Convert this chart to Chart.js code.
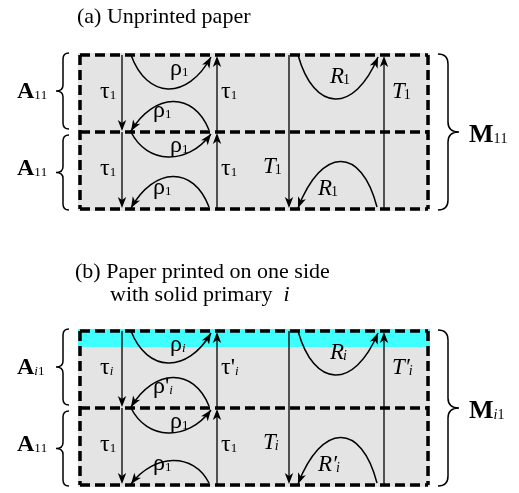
<!DOCTYPE html>
<html>
<head>
<meta charset="utf-8">
<script src="https://cdn.jsdelivr.net/npm/chart.js@4.4.1/dist/chart.umd.min.js"></script>
<style>
  html, body { margin: 0; padding: 0; background: #fff; }
</style>
</head>
<body>
<canvas id="diagram" width="519" height="493"></canvas>
<script>
// ---- content (text of the two panels) ----
const panelTitles = ['(a) Unprinted paper', '(b) Paper printed on one side'];
const panelNotes = ['', 'with solid primary'];
const panelNoteVar = ['', 'i'];
const inkOnTop = [false, true];

// one entry per layer: panel (a) upper, lower, panel (b) upper, lower
const layerTag = ['11', '11', 'i1', '11'];
const rhoIn = [['ρ', '1'], ['ρ', '1'], ['ρ', 'i'], ['ρ', '1']];
const rhoOut = [['ρ', '1'], ['ρ', '1'], ["ρ'", 'i'], ['ρ', '1']];
const tauDown = [['τ', '1'], ['τ', '1'], ['τ', 'i'], ['τ', '1']];
const tauUp = [['τ', '1'], ['τ', '1'], ["τ'", 'i'], ['τ', '1']];

// one entry per panel (whole stack of two layers)
const stackTag = ['11', 'i1'];
const reflTop = [['R', '1'], ['R', 'i']];
const transUp = [['T', '1'], ['T\u2032', 'i']];
const transDown = [['T', '1'], ['T', 'i']];
const reflBottom = [['R', '1'], ['R\u2032', 'i']];

// ---- layout (diagram units = reference pixels) ----
const panelTop = [55, 331];
const LAYER = 77;
const BOX = { x0: 80, x1: 428 };
const SHAFT = { tauDown: 122, tauUp: 217, tDown: 289, tUp: 384 };
const inDepth = [33, 24, 31, 24];
const outDepth = [29, 31, 29, 23];
const FONT = '"Liberation Serif", "Times New Roman", serif';

const lineSets = [];
function seg(x0, y0, x1, y1, dashed) {
  lineSets.push({
    data: [{ x: x0, y: y0 }, { x: x1, y: y1 }],
    showLine: true,
    borderColor: '#000',
    borderWidth: dashed ? 3.5 : 1.3,
    borderDash: dashed ? [10, 5] : [],
    pointRadius: 0,
    clip: false
  });
}
panelTop.forEach((t) => {
  const m = t + LAYER, b = t + 2 * LAYER;
  seg(BOX.x0, t, BOX.x1, t, true);
  seg(BOX.x0, m, BOX.x1, m, true);
  seg(BOX.x0, b, BOX.x1, b, true);
  seg(BOX.x0, t, BOX.x0, b, true);
  seg(BOX.x1, t, BOX.x1, b, true);
  for (let k = 0; k < 2; k++) {
    const lt = t + k * LAYER, lb = lt + LAYER;
    seg(SHAFT.tauDown, lt, SHAFT.tauDown, lb - 4);
    seg(SHAFT.tauUp, lb, SHAFT.tauUp, lt + 4);
  }
  seg(SHAFT.tDown, t, SHAFT.tDown, b - 4);
  seg(SHAFT.tUp, b, SHAFT.tUp, t + 4);
});

function arrowHead(ctx, x, y, ang) {
  ctx.save();
  ctx.translate(x, y);
  ctx.rotate(ang);
  ctx.beginPath();
  ctx.moveTo(0, 0);
  ctx.lineTo(-11, -4.2);
  ctx.lineTo(-8, 0);
  ctx.lineTo(-11, 4.2);
  ctx.closePath();
  ctx.fill();
  ctx.restore();
}

// curved flux: from s to e, bulging by depth (positive = downwards)
function arc(ctx, X, Y, sx, sy, ex, ey, depth) {
  const k = depth / 0.75;
  const dx = ex - sx;
  const c1x = sx + dx * 0.2, c1y = sy + k;
  const c2x = ex - dx * 0.3, c2y = ey + k;
  ctx.beginPath();
  ctx.moveTo(X(sx), Y(sy));
  ctx.bezierCurveTo(X(c1x), Y(c1y), X(c2x), Y(c2y), X(ex), Y(ey));
  ctx.stroke();
  const ang = Math.atan2(Y(ey) - Y(c2y), X(ex) - X(c2x));
  arrowHead(ctx, X(ex), Y(ey), ang);
}

function brace(ctx, X, Y, xs, xt, y0, y1, r) {
  const d = Math.sign(xs - xt);
  const ym = (y0 + y1) / 2;
  ctx.beginPath();
  ctx.moveTo(X(xs + d * r), Y(y0));
  ctx.quadraticCurveTo(X(xs), Y(y0), X(xs), Y(y0 + r));
  ctx.lineTo(X(xs), Y(ym - r));
  ctx.quadraticCurveTo(X(xs), Y(ym), X(xt), Y(ym));
  ctx.quadraticCurveTo(X(xs), Y(ym), X(xs), Y(ym + r));
  ctx.lineTo(X(xs), Y(y1 - r));
  ctx.quadraticCurveTo(X(xs), Y(y1), X(xs + d * r), Y(y1));
  ctx.stroke();
}

function label(ctx, x, y, main, sub, style, size, subSize, drop) {
  ctx.font = style + ' ' + size + 'px ' + FONT;
  ctx.fillText(main, x, y);
  let cx = x + ctx.measureText(main).width;
  if (style.indexOf('italic') >= 0) cx -= 1;
  for (const ch of sub) {
    ctx.font = (/[a-z]/.test(ch) ? 'italic ' : '') + subSize + 'px ' + FONT;
    ctx.fillText(ch, cx, y + drop);
    cx += ctx.measureText(ch).width;
  }
}

const diagramPlugin = {
  id: 'diagram',
  beforeDatasetsDraw(chart) {
    const { ctx, scales: { x, y } } = chart;
    const X = (v) => x.getPixelForValue(v), Y = (v) => y.getPixelForValue(v);
    ctx.save();
    panelTop.forEach((t, p) => {
      ctx.fillStyle = '#e4e4e4';
      ctx.fillRect(X(BOX.x0 - 2), Y(t - 2), X(BOX.x1 + 2) - X(BOX.x0 - 2), Y(t + 2 * LAYER + 2) - Y(t - 2));
      if (inkOnTop[p]) {
        ctx.fillStyle = '#40ffff';
        ctx.fillRect(X(BOX.x0 - 2), Y(t - 2), X(BOX.x1 + 2) - X(BOX.x0 - 2), Y(t + 16) - Y(t - 2));
      }
    });
    ctx.restore();
  },
  afterDatasetsDraw(chart) {
    const { ctx, scales: { x, y } } = chart;
    const X = (v) => x.getPixelForValue(v), Y = (v) => y.getPixelForValue(v);
    ctx.save();
    ctx.fillStyle = '#000';
    ctx.strokeStyle = '#000';
    ctx.lineWidth = 1.5;
    ctx.setLineDash([]);

    panelTop.forEach((t, p) => {
      const b = t + 2 * LAYER;
      for (let k = 0; k < 2; k++) {
        const lt = t + k * LAYER, lb = lt + LAYER;
        arrowHead(ctx, X(SHAFT.tauDown), Y(lb - 1), Math.PI / 2);
        arrowHead(ctx, X(SHAFT.tauUp), Y(lt + 1), -Math.PI / 2);
        const l = p * 2 + k;
        arc(ctx, X, Y, 131, lt, 211, lt + 2, inDepth[l]);
        arc(ctx, X, Y, 209, lb - 2, 131, lb - 1, -outDepth[l]);
      }
      arrowHead(ctx, X(SHAFT.tDown), Y(b - 1), Math.PI / 2);
      arrowHead(ctx, X(SHAFT.tUp), Y(t + 1), -Math.PI / 2);
      arc(ctx, X, Y, 298, t, 378, t + 2, 43);
      arc(ctx, X, Y, 377, b - 2, 298, b - 1, -46);

      // braces
      brace(ctx, X, Y, 63, 56, t - 2, t + LAYER - 3, 6);
      brace(ctx, X, Y, 63, 56, t + LAYER + 3, b + 1, 6);
      brace(ctx, X, Y, 448, 459, t - 1, b + 1, 10);
    });

    // text
    ctx.textBaseline = 'alphabetic';
    ctx.font = '22px ' + FONT;
    ctx.fillText(panelTitles[0], X(77), Y(23));
    ctx.fillText(panelTitles[1], X(75), Y(278));
    ctx.fillText(panelNotes[1], X(110), Y(301));
    const nw = ctx.measureText(panelNotes[1] + '  ').width;
    ctx.font = 'italic 22px ' + FONT;
    ctx.fillText(panelNoteVar[1], X(110) + nw, Y(301));

    panelTop.forEach((t, p) => {
      for (let k = 0; k < 2; k++) {
        const l = p * 2 + k, lt = t + k * LAYER;
        label(ctx, X(17), Y(lt + 43), 'A', layerTag[l], 'bold', 24, 13, 1);
        label(ctx, X(170), Y(lt + 20), rhoIn[l][0], rhoIn[l][1], '', 24, 13, 1);
        label(ctx, X(153), Y(lt + 62), rhoOut[l][0], rhoOut[l][1], '', 24, 13, 1);
        label(ctx, X(100), Y(lt + 43), tauDown[l][0], tauDown[l][1], '', 24, 13, 1);
        label(ctx, X(221), Y(lt + 43), tauUp[l][0], tauUp[l][1], '', 24, 13, 1);
      }
      label(ctx, X(469), Y(t + 87), 'M', stackTag[p], 'bold', 26, 14, 1);
      label(ctx, X(330), Y(t + 28), reflTop[p][0], reflTop[p][1], 'italic', 23, 14, 1);
      label(ctx, X(392), Y(t + 43), transUp[p][0], transUp[p][1], 'italic', 23, 14, 1);
      label(ctx, X(263), Y(t + 118), transDown[p][0], transDown[p][1], 'italic', 23, 14, 1);
      label(ctx, X(318), Y(t + 140), reflBottom[p][0], reflBottom[p][1], 'italic', 23, 14, 1);
    });
    ctx.restore();
  }
};

new Chart(document.getElementById('diagram'), {
  type: 'scatter',
  data: { datasets: lineSets },
  options: {
    responsive: false,
    devicePixelRatio: 1,
    animation: false,
    layout: { padding: 0 },
    plugins: { legend: { display: false }, tooltip: { enabled: false } },
    scales: {
      x: { type: 'linear', min: 0, max: 519, display: false },
      y: { type: 'linear', min: 0, max: 493, reverse: true, display: false }
    }
  },
  plugins: [diagramPlugin]
});
</script>
</body>
</html>
